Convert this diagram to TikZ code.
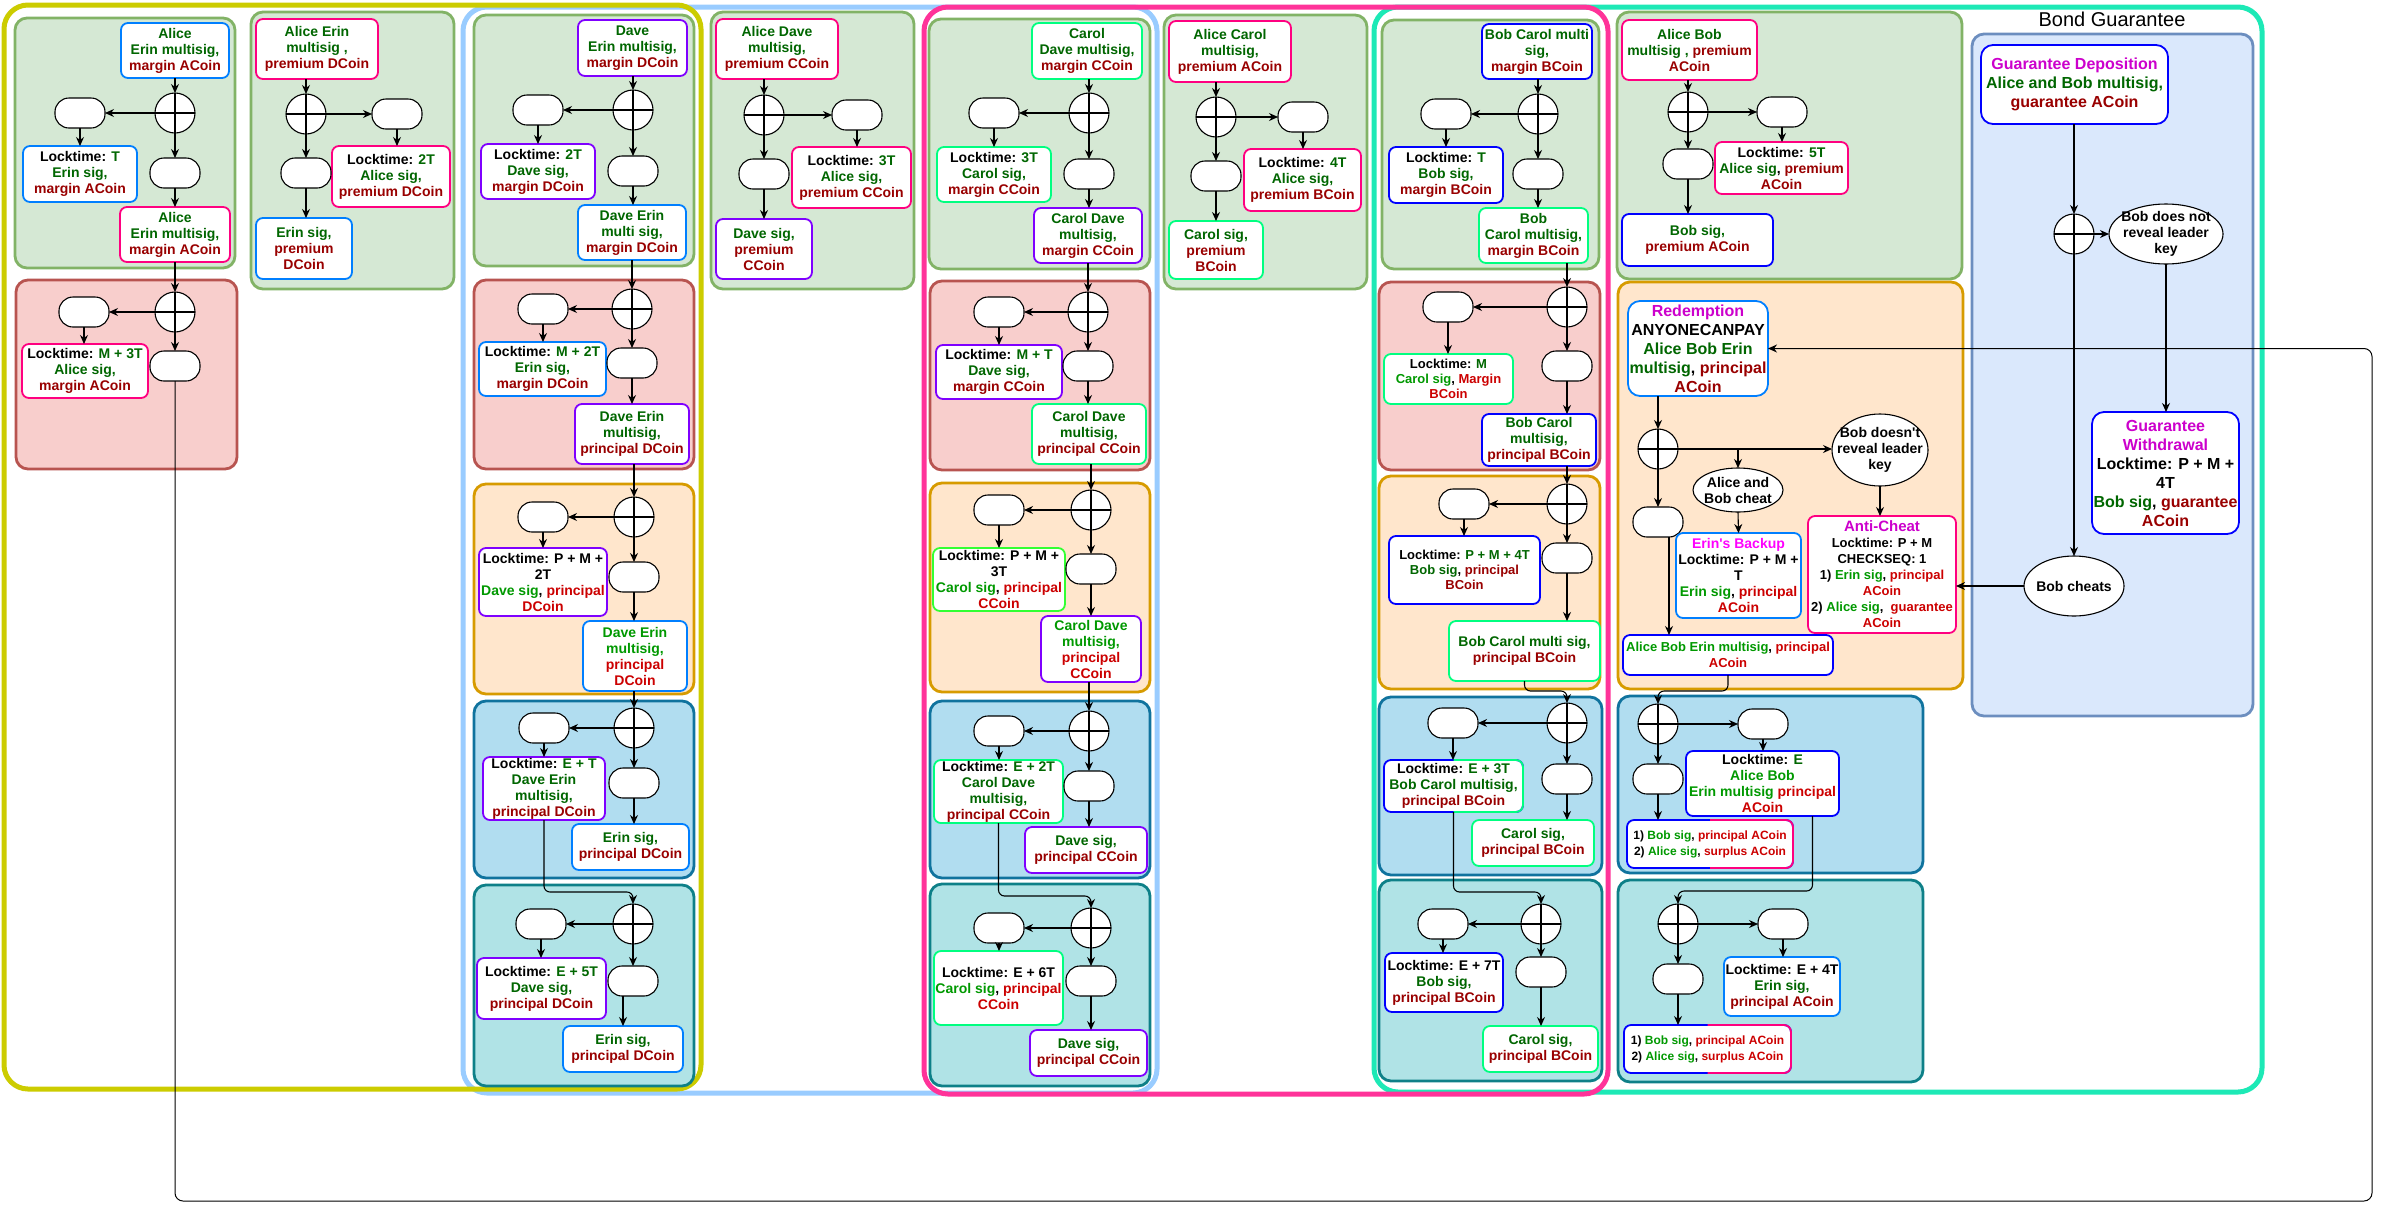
\documentclass[tikz,border=0pt]{standalone}
\usepackage{fontspec}
\setmainfont{Liberation Sans}
\usetikzlibrary{arrows.meta,shapes.geometric,calc}
\definecolor{tg}{HTML}{006600}
\definecolor{tr}{HTML}{990000}
\definecolor{bgc}{HTML}{009900}
\definecolor{brc}{HTML}{CC0000}
\definecolor{mg}{HTML}{CC00CC}
\definecolor{mgb}{HTML}{FF00FF}
\definecolor{cBlue}{HTML}{007FFF}
\definecolor{cBob}{HTML}{0000FF}
\definecolor{cPink}{HTML}{FF0080}
\definecolor{cPurple}{HTML}{7F00FF}
\definecolor{cGreen}{HTML}{00FF80}
\definecolor{cGreenB}{HTML}{33FF33}
\definecolor{yel}{HTML}{CCCC00}
\definecolor{lblue}{HTML}{99CCFF}
\definecolor{hpink}{HTML}{FF3399}
\definecolor{mint}{HTML}{1DE9B6}
\definecolor{gF}{HTML}{D5E8D4}\definecolor{gS}{HTML}{82B366}
\definecolor{rF}{HTML}{F8CECC}\definecolor{rS}{HTML}{B85450}
\definecolor{oF}{HTML}{FFE6CC}\definecolor{oS}{HTML}{D79B00}
\definecolor{bF}{HTML}{B1DDF0}\definecolor{bS}{HTML}{10739E}
\definecolor{tF}{HTML}{B0E3E6}\definecolor{tS}{HTML}{0E8088}
\definecolor{pF}{HTML}{DAE8FC}\definecolor{pS}{HTML}{6C8EBF}
\newcommand{\xG}[1]{\textcolor{tg}{#1}}
\newcommand{\xR}[1]{\textcolor{tr}{#1}}
\newcommand{\xg}[1]{\textcolor{bgc}{#1}}
\newcommand{\xr}[1]{\textcolor{brc}{#1}}
\newcommand{\lockt}{Locktime:}
\newcommand{\splitborder}[2]{\begin{scope}\clip ($(#1.north)+(0,-10)$) rectangle ($(#1.south east)+(10,10)$);\draw[draw=#2, line width=1.8pt, rounded corners=7pt] (#1.south west) rectangle (#1.north east);\end{scope}}
\tikzset{
  every node/.append style={font=\bfseries\fontsize{14}{16}\selectfont},
  bx/.style={draw=#1, fill=white, rounded corners=7pt, line width=1.8pt, align=center, inner sep=1pt, outer sep=0pt},
  pill/.style={draw=black, fill=white, rounded corners=14pt, minimum width=50pt, minimum height=30pt, line width=1.1pt, inner sep=0pt, outer sep=0pt},
  xor/.style={circle, draw=black, fill=white, minimum size=40pt, inner sep=0pt, outer sep=0pt, line width=1.1pt, path picture={\draw[line width=1.1pt] (path picture bounding box.north) -- (path picture bounding box.south) (path picture bounding box.west) -- (path picture bounding box.east);}},
  ell/.style={ellipse, draw=black, fill=white, line width=1.1pt, inner sep=0pt, outer sep=0pt},
  ar/.style={draw=black, line width=1.1pt, -{Stealth[length=9pt,width=8pt]}},
  grp/.style={rounded corners=12pt, line width=2.8pt},
  outer/.style={rounded corners=24pt, line width=5pt},
}
\begin{document}
\begin{tikzpicture}[x=1pt,y=-1pt]
\fill[white] (0,0) rectangle (2383,1211);
\useasboundingbox (0,0) rectangle (2383,1211);
% outer containers
\draw[outer, draw=mint] (1374,7) rectangle (2262,1092);
\draw[outer, draw=lblue] (463,7) rectangle (1157,1093);
\draw[outer, draw=hpink] (924,7) rectangle (1608,1094);
\draw[outer, draw=yel] (4,5) rectangle (701,1089);
\node[font=\fontsize{20}{24}\selectfont] (title) at (2112,19) {Bond Guarantee};
% groups
\draw[grp, fill=gF, draw=gS] (15,18) rectangle (235,268);
\draw[grp, fill=rF, draw=rS] (16,280) rectangle (237,469);
\draw[grp, fill=gF, draw=gS] (251,12) rectangle (454,289);
\draw[grp, fill=gF, draw=gS] (474,15) rectangle (694,266);
\draw[grp, fill=rF, draw=rS] (474,280) rectangle (694,469);
\draw[grp, fill=oF, draw=oS] (474,484) rectangle (694,694);
\draw[grp, fill=bF, draw=bS] (474,701) rectangle (694,878);
\draw[grp, fill=tF, draw=tS] (474,885) rectangle (694,1086);
\draw[grp, fill=gF, draw=gS] (711,12) rectangle (914,289);
\draw[grp, fill=gF, draw=gS] (929,19) rectangle (1150,269);
\draw[grp, fill=rF, draw=rS] (930,281) rectangle (1150,470);
\draw[grp, fill=oF, draw=oS] (930,483) rectangle (1150,692);
\draw[grp, fill=bF, draw=bS] (930,701) rectangle (1150,878);
\draw[grp, fill=tF, draw=tS] (930,884) rectangle (1150,1086);
\draw[grp, fill=gF, draw=gS] (1164,15) rectangle (1367,289);
\draw[grp, fill=gF, draw=gS] (1382,20) rectangle (1599,269);
\draw[grp, fill=rF, draw=rS] (1379,282) rectangle (1600,470);
\draw[grp, fill=oF, draw=oS] (1379,476) rectangle (1600,689);
\draw[grp, fill=bF, draw=bS] (1379,697) rectangle (1602,875);
\draw[grp, fill=tF, draw=tS] (1379,880) rectangle (1602,1081);
\draw[grp, fill=gF, draw=gS] (1617,12) rectangle (1962,279);
\draw[grp, fill=oF, draw=oS] (1618,282) rectangle (1963,689);
\draw[grp, fill=bF, draw=bS] (1618,696) rectangle (1923,873);
\draw[grp, fill=tF, draw=tS] (1618,880) rectangle (1923,1082);
\draw[grp, fill=pF, draw=pS] (1972,34) rectangle (2253,716);

% ===== Column A =====
\node[bx=cBlue, minimum width=108pt, minimum height=55pt] (A1a) at (175,50.5) {\xG{Alice}\\\xG{Erin multisig,}\\\xR{margin ACoin}};
\node[xor] (A1x) at (175,113) {};
\node[pill] (A1p) at (80,113) {};
\node[bx=cBlue, minimum width=114pt, minimum height=56pt] (A1b) at (80,174) {\lockt{} \xG{T}\\\xG{Erin sig,}\\\xR{margin ACoin}};
\node[pill] (A1q) at (175,173) {};
\node[bx=cPink, minimum width=110pt, minimum height=55pt] (A1c) at (175,234.5) {\xG{Alice}\\\xG{Erin multisig,}\\\xR{margin ACoin}};
\node[xor] (A2x) at (175,312) {};
\node[pill] (A2p) at (84,312) {};
\node[bx=cPink, minimum width=126pt, minimum height=54pt] (A2b) at (85,371) {\lockt{} \xG{M + 3T}\\\xG{Alice sig,}\\\xR{margin ACoin}};
\node[pill] (A2q) at (175,366) {};

% ===== Column B =====
\node[bx=cPink, minimum width=122pt, minimum height=60pt] (B1) at (317,49) {\xG{Alice Erin}\\\xG{multisig ,}\\\xR{premium DCoin}};
\node[xor] (Bx) at (306,114) {};
\node[pill] (Bp) at (397,114) {};
\node[bx=cPink, minimum width=118pt, minimum height=61pt] (B2) at (391,176.5) {\lockt{} \xG{2T}\\\xG{Alice sig,}\\\xR{premium DCoin}};
\node[pill] (Bq) at (306,173) {};
\node[bx=cBlue, minimum width=96pt, minimum height=61pt] (B3) at (304,248.5) {\xG{Erin sig,}\\\xR{premium}\\\xR{DCoin}};

% ===== Column C =====
\node[bx=cPurple, minimum width=109pt, minimum height=56pt] (C1a) at (632.5,48) {\xG{Dave}\\\xG{Erin multisig,}\\\xR{margin DCoin}};
\node[xor] (C1x) at (633,110) {};
\node[pill] (C1p) at (538,110) {};
\node[bx=cPurple, minimum width=114pt, minimum height=55pt] (C1b) at (538,171.5) {\lockt{} \xG{2T}\\\xG{Dave sig,}\\\xR{margin DCoin}};
\node[pill] (C1q) at (633,171) {};
\node[bx=cBlue, minimum width=108pt, minimum height=55pt] (C1c) at (632,232.5) {\xG{Dave Erin}\\\xG{multi sig,}\\\xR{margin DCoin}};
\node[xor] (C2x) at (632,309) {};
\node[pill] (C2p) at (543,309) {};
\node[bx=cBlue, minimum width=127pt, minimum height=54pt] (C2b) at (542.5,369) {\lockt{} \xG{M + 2T}\\\xG{Erin sig,}\\\xR{margin DCoin}};
\node[pill] (C2q) at (632,363) {};
\node[bx=cPurple, minimum width=114pt, minimum height=60pt] (C2c) at (632,434) {\xG{Dave Erin}\\\xG{multisig,}\\\xR{principal DCoin}};
\node[xor] (C3x) at (634,517) {};
\node[pill] (C3p) at (543,517) {};
\node[bx=cPurple, minimum width=128pt, minimum height=68pt] (C3b) at (543,582) {\lockt{} P + M +\\2T\\\xg{Dave sig}, \xr{principal}\\\xr{DCoin}};
\node[pill] (C3q) at (634,577) {};
\node[bx=cBlue, minimum width=104pt, minimum height=70pt] (C3c) at (635,656) {\xg{Dave Erin}\\\xg{multisig,}\\\xr{principal}\\\xr{DCoin}};
\node[xor] (C4x) at (634,728) {};
\node[pill] (C4p) at (544,728) {};
\node[bx=cPurple, minimum width=122pt, minimum height=63pt] (C4b) at (544,788.5) {\lockt{} \xG{E + T}\\\xG{Dave Erin}\\\xG{multisig,}\\\xR{principal DCoin}};
\node[pill] (C4q) at (634,783) {};
\node[bx=cBlue, minimum width=117pt, minimum height=46pt] (C4c) at (630.5,847) {\xG{Erin sig,}\\\xR{principal DCoin}};
\node[xor] (C5x) at (633,924) {};
\node[pill] (C5p) at (541,924) {};
\node[bx=cPurple, minimum width=129pt, minimum height=61pt] (C5b) at (541.5,988.5) {\lockt{} \xG{E + 5T}\\\xG{Dave sig,}\\\xR{principal DCoin}};
\node[pill] (C5q) at (633,981) {};
\node[bx=cBlue, minimum width=120pt, minimum height=46pt] (C5c) at (623,1049) {\xG{Erin sig,}\\\xR{principal DCoin}};

% ===== Column D =====
\node[bx=cPink, minimum width=122pt, minimum height=60pt] (D1) at (777,49) {\xG{Alice Dave}\\\xG{multisig,}\\\xR{premium CCoin}};
\node[xor] (Dx) at (764,115) {};
\node[pill] (Dp) at (857,115) {};
\node[bx=cPink, minimum width=119pt, minimum height=61pt] (D2) at (851.5,177.5) {\lockt{} \xG{3T}\\\xG{Alice sig,}\\\xR{premium CCoin}};
\node[pill] (Dq) at (764,174) {};
\node[bx=cPurple, minimum width=96pt, minimum height=60pt] (D3) at (764,249) {\xG{Dave sig,}\\\xR{premium}\\\xR{CCoin}};

% ===== Column E =====
\node[bx=cGreen, minimum width=110pt, minimum height=56pt] (E1a) at (1087,51) {\xG{Carol}\\\xG{Dave multisig,}\\\xR{margin CCoin}};
\node[xor] (E1x) at (1089,113) {};
\node[pill] (E1p) at (994,113) {};
\node[bx=cGreen, minimum width=114pt, minimum height=55pt] (E1b) at (994,174.5) {\lockt{} \xG{3T}\\\xG{Carol sig,}\\\xR{margin CCoin}};
\node[pill] (E1q) at (1089,174) {};
\node[bx=cPurple, minimum width=108pt, minimum height=55pt] (E1c) at (1088,235.5) {\xG{Carol Dave}\\\xG{multisig,}\\\xR{margin CCoin}};
\node[xor] (E2x) at (1088,312) {};
\node[pill] (E2p) at (999,312) {};
\node[bx=cPurple, minimum width=126pt, minimum height=54pt] (E2b) at (999,372) {\lockt{} \xG{M + T}\\\xG{Dave sig,}\\\xR{margin CCoin}};
\node[pill] (E2q) at (1088,366) {};
\node[bx=cGreen, minimum width=114pt, minimum height=60pt] (E2c) at (1089,434) {\xG{Carol Dave}\\\xG{multisig,}\\\xR{principal CCoin}};
\node[xor] (E3x) at (1091,510) {};
\node[pill] (E3p) at (999,510) {};
\node[bx=cGreenB, minimum width=132pt, minimum height=63pt] (E3b) at (999,579.5) {\lockt{} P + M +\\3T\\\xg{Carol sig}, \xr{principal}\\\xr{CCoin}};
\node[pill] (E3q) at (1091,569) {};
\node[bx=cPurple, minimum width=100pt, minimum height=66pt] (E3c) at (1091,649) {\xg{Carol Dave}\\\xg{multisig,}\\\xr{principal}\\\xr{CCoin}};
\node[xor] (E4x) at (1089,731) {};
\node[pill] (E4p) at (999,731) {};
\node[bx=cGreen, minimum width=129pt, minimum height=63pt] (E4b) at (998.5,791.5) {\lockt{} \xG{E + 2T}\\\xG{Carol Dave}\\\xG{multisig,}\\\xR{principal CCoin}};
\node[pill] (E4q) at (1089,786) {};
\node[bx=cPurple, minimum width=122pt, minimum height=46pt] (E4c) at (1086,850) {\xG{Dave sig,}\\\xR{principal CCoin}};
\node[xor] (E5x) at (1091,928) {};
\node[pill] (E5p) at (999,928) {};
\node[bx=cGreen, minimum width=129pt, minimum height=74pt] (E5b) at (998.5,988) {\lockt{} E + 6T\\\xg{Carol sig}, \xr{principal}\\\xr{CCoin}};
\node[pill] (E5q) at (1091,981) {};
\node[bx=cPurple, minimum width=117pt, minimum height=46pt] (E5c) at (1088.5,1053) {\xG{Dave sig,}\\\xR{principal CCoin}};

% ===== Column F =====
\node[bx=cPink, minimum width=122pt, minimum height=61pt] (F1) at (1230,51.5) {\xG{Alice Carol}\\\xG{multisig,}\\\xR{premium ACoin}};
\node[xor] (Fx) at (1216,117) {};
\node[pill] (Fp) at (1303,117) {};
\node[bx=cPink, minimum width=117pt, minimum height=62pt] (F2) at (1302.5,180) {\lockt{} \xG{4T}\\\xG{Alice sig,}\\\xR{premium BCoin}};
\node[pill] (Fq) at (1216,176) {};
\node[bx=cGreen, minimum width=94pt, minimum height=58pt] (F3) at (1216,250) {\xG{Carol sig,}\\\xR{premium}\\\xR{BCoin}};

% ===== Column G =====
\node[bx=cBob, minimum width=110pt, minimum height=55pt] (G1a) at (1537,51.5) {\xG{Bob Carol multi}\\\xG{sig,}\\\xR{margin BCoin}};
\node[xor] (G1x) at (1538,114) {};
\node[pill] (G1p) at (1446,114) {};
\node[bx=cBob, minimum width=114pt, minimum height=56pt] (G1b) at (1446,175) {\lockt{} \xG{T}\\\xG{Bob sig,}\\\xR{margin BCoin}};
\node[pill] (G1q) at (1538,174) {};
\node[bx=cGreen, minimum width=109pt, minimum height=55pt] (G1c) at (1533.5,235.5) {\xG{Bob}\\\xG{Carol multisig,}\\\xR{margin BCoin}};
\node[xor] (G2x) at (1567,307) {};
\node[pill] (G2p) at (1448,307) {};
\node[bx=cGreen, minimum width=129pt, minimum height=50pt, font=\bfseries\fontsize{13}{15}\selectfont] (G2b) at (1448.5,379) {\lockt{} \xG{M}\\\xg{Carol sig}, \xr{Margin}\\\xr{BCoin}};
\node[pill] (G2q) at (1567,366) {};
\node[bx=cBob, minimum width=114pt, minimum height=52pt] (G2c) at (1539,440) {\xG{Bob Carol}\\\xG{multisig,}\\\xR{principal BCoin}};
\node[xor] (G3x) at (1567,504) {};
\node[pill] (G3p) at (1464,504) {};
\node[bx=cBob, minimum width=151pt, minimum height=68pt, font=\bfseries\fontsize{13}{15}\selectfont] (G3b) at (1464.5,570) {\lockt{} \xG{P + M + 4T}\\\xG{Bob sig}, \xR{principal}\\\xR{BCoin}};
\node[pill] (G3q) at (1567,558) {};
\node[bx=cGreen, minimum width=151pt, minimum height=60pt] (G3c) at (1524.5,651) {\xG{Bob Carol multi sig,}\\\xR{principal BCoin}};
\node[xor] (G4x) at (1567,723) {};
\node[pill] (G4p) at (1453,723) {};
\node[bx=cBob, minimum width=139pt, minimum height=52pt] (G4b) at (1453.5,786) {\lockt{} \xG{E + 3T}\\\xG{Bob Carol multisig,}\\\xR{principal BCoin}};
\node[pill] (G4q) at (1567,779) {};
\node[bx=cGreen, minimum width=122pt, minimum height=46pt] (G4c) at (1533,843) {\xG{Carol sig,}\\\xR{principal BCoin}};
\node[xor] (G5x) at (1541,924) {};
\node[pill] (G5p) at (1443,924) {};
\node[bx=cBob, minimum width=118pt, minimum height=59pt] (G5b) at (1444,982.5) {\lockt{} E + 7T\\\xG{Bob sig,}\\\xR{principal BCoin}};
\node[pill] (G5q) at (1541,972) {};
\node[bx=cGreen, minimum width=115pt, minimum height=46pt] (G5c) at (1540.5,1049) {\xG{Carol sig,}\\\xR{principal BCoin}};

% ===== Column H =====
\node[bx=cPink, minimum width=135pt, minimum height=60pt] (H1a) at (1689.5,50) {\xG{Alice Bob}\\\xG{multisig ,} \xR{premium}\\\xR{ACoin}};
\node[xor] (H1x) at (1688,112) {};
\node[pill] (H1p) at (1782,112) {};
\node[bx=cPink, minimum width=133pt, minimum height=52pt] (H1b) at (1781.5,168) {\lockt{} \xG{5T}\\\xG{Alice sig}, \xR{premium}\\\xR{ACoin}};
\node[pill] (H1q) at (1688,164) {};
\node[bx=cBob, minimum width=151pt, minimum height=52pt] (H1c) at (1697.5,240) {\xG{Bob sig,}\\\xR{premium ACoin}};

\node[bx=cBlue, rounded corners=12pt, minimum width=140pt, minimum height=95pt, font=\bfseries\fontsize{16}{19}\selectfont] (Red) at (1698,348.5) {\textcolor{mg}{Redemption}\\ANYONECANPAY\\\xG{Alice Bob Erin}\\\xG{multisig}, \xR{principal}\\\xR{ACoin}};
\node[xor] (H2x) at (1658,449) {};
\node[ell, minimum width=96pt, minimum height=72pt, label={[align=center]center:Bob doesn\textquotesingle t\\reveal leader\\key}] (H2e1) at (1880,450) {};
\node[ell, minimum width=90pt, minimum height=44pt, label={[align=center]center:Alice and\\Bob cheat}] (H2e2) at (1738,490) {};
\node[pill] (H2p) at (1658,522) {};
\node[bx=cBlue, minimum width=125pt, minimum height=85pt] (H2eb) at (1738.5,575.5) {\textcolor{mgb}{Erin\textquotesingle s Backup}\\\lockt{} P + M +\\T\\\xg{Erin sig}, \xr{principal}\\\xr{ACoin}};
\node[bx=cPink, minimum width=148pt, minimum height=117pt, font=\bfseries\fontsize{13}{16}\selectfont] (H2ac) at (1882,574.5) {{\color{mg}\fontsize{15}{16}\selectfont Anti-Cheat}\\\lockt{} P + M\\CHECKSEQ: 1\\1) \xg{Erin sig}, \xr{principal}\\\xr{ACoin}\\2) \xg{Alice sig},\ \ \xr{guarantee}\\\xr{ACoin}};
\node[bx=cBob, minimum width=210pt, minimum height=40pt, font=\bfseries\fontsize{13}{16}\selectfont] (H2abe) at (1728,655) {\xg{Alice Bob Erin multisig}, \xr{principal}\\\xr{ACoin}};

\node[xor] (H3x) at (1658,724) {};
\node[pill] (H3p) at (1763,724) {};
\node[bx=cBob, minimum width=153pt, minimum height=65pt] (H3b) at (1762.5,783.5) {\lockt{} \xG{E}\\\xg{Alice Bob}\\\xg{Erin multisig} \xr{principal}\\\xr{ACoin}};
\node[pill] (H3q) at (1658,779) {};
\node[bx=cBob, minimum width=166pt, minimum height=48pt, font=\bfseries\fontsize{12}{16}\selectfont] (H3c) at (1710,844) {1) \xg{Bob sig}, \xr{principal ACoin}\\2) \xg{Alice sig}, \xr{surplus ACoin}};
\splitborder{H3c}{cPink}

\node[xor] (H4x) at (1678,924) {};
\node[pill] (H4p) at (1783,924) {};
\node[bx=cBlue, minimum width=116pt, minimum height=59pt] (H4b) at (1782,986.5) {\lockt{} E + 4T\\\xG{Erin sig,}\\\xR{principal ACoin}};
\node[pill] (H4q) at (1678,979) {};
\node[bx=cBob, minimum width=167pt, minimum height=48pt, font=\bfseries\fontsize{12}{16}\selectfont] (H4c) at (1707.5,1049) {1) \xg{Bob sig}, \xr{principal ACoin}\\2) \xg{Alice sig}, \xr{surplus ACoin}};
\splitborder{H4c}{cPink}
\splitborder{G4b}{cGreen}

% ===== Bond Guarantee =====
\node[bx=cBob, rounded corners=12pt, minimum width=187pt, minimum height=79pt, font=\bfseries\fontsize{16}{19}\selectfont] (BGd) at (2074.5,84.5) {\textcolor{mg}{Guarantee Deposition}\\\xG{Alice and Bob multisig,}\\\xR{guarantee ACoin}};
\node[xor] (BGx) at (2074,234) {};
\node[ell, minimum width=114pt, minimum height=60pt, label={[align=center]center:Bob does not\\reveal leader\\key}] (BGe1) at (2166,234) {};
\node[bx=cBob, rounded corners=12pt, minimum width=147pt, minimum height=122pt, font=\bfseries\fontsize{16}{19}\selectfont] (BGw) at (2165.5,473) {\textcolor{mg}{Guarantee}\\\textcolor{mg}{Withdrawal}\\\lockt{} P + M +\\4T\\\xG{Bob sig}, \xR{guarantee}\\\xR{ACoin}};
\node[ell, minimum width=100pt, minimum height=60pt, label={center:Bob cheats}] (BGe2) at (2074,586) {};

\coordinate (loopC) at (2372,1201);

% ===== connectors =====
% A
\draw[ar] (A1a.south -| A1x) -- (A1x.north);
\draw[ar] (A1x.west) -- (A1p.east);
\draw[ar] (A1x.south) -- (A1q.north);
\draw[ar] (A1p.south) -- (A1b.north -| A1p);
\draw[ar] (A1q.south) -- (A1c.north -| A1q);
\draw[ar] (A1c.south -| A2x) -- (A2x.north);
\draw[ar] (A2x.west) -- (A2p.east);
\draw[ar] (A2x.south) -- (A2q.north);
\draw[ar] (A2p.south) -- (A2b.north -| A2p);
\draw[ar, line width=1pt, rounded corners=8pt] (A2q.south) |- (loopC) |- (Red.east);
% B
\draw[ar] (B1.south -| Bx) -- (Bx.north);
\draw[ar] (Bx.east) -- (Bp.west);
\draw[ar] (Bx.south) -- (Bq.north);
\draw[ar] (Bp.south) -- (B2.north -| Bp);
\draw[ar] (Bq.south) -- (B3.north -| Bq);
% C
\draw[ar] (C1a.south -| C1x) -- (C1x.north);
\draw[ar] (C1x.west) -- (C1p.east);
\draw[ar] (C1x.south) -- (C1q.north);
\draw[ar] (C1p.south) -- (C1b.north -| C1p);
\draw[ar] (C1q.south) -- (C1c.north -| C1q);
\draw[ar] (C1c.south -| C2x) -- (C2x.north);
\draw[ar] (C2x.west) -- (C2p.east);
\draw[ar] (C2x.south) -- (C2q.north);
\draw[ar] (C2p.south) -- (C2b.north -| C2p);
\draw[ar] (C2q.south) -- (C2c.north -| C2q);
\draw[ar] (C2c.south -| C3x) -- (C3x.north);
\draw[ar] (C3x.west) -- (C3p.east);
\draw[ar] (C3x.south) -- (C3q.north);
\draw[ar] (C3p.south) -- (C3b.north -| C3p);
\draw[ar] (C3q.south) -- (C3c.north -| C3q);
\draw[ar] (C3c.south -| C4x) -- (C4x.north);
\draw[ar] (C4x.west) -- (C4p.east);
\draw[ar] (C4x.south) -- (C4q.north);
\draw[ar] (C4p.south) -- (C4b.north -| C4p);
\draw[ar] (C4q.south) -- (C4c.north -| C4q);
\draw[ar, rounded corners=6pt] (C4b.south) |- ($(C5x.north)+(0,-12)$) -- (C5x.north);
\draw[ar] (C5x.west) -- (C5p.east);
\draw[ar] (C5x.south) -- (C5q.north);
\draw[ar] (C5p.south) -- (C5b.north -| C5p);
\draw[ar] (C5q.south -| C5c) -- (C5c.north);
% D
\draw[ar] (D1.south -| Dx) -- (Dx.north);
\draw[ar] (Dx.east) -- (Dp.west);
\draw[ar] (Dx.south) -- (Dq.north);
\draw[ar] (Dp.south) -- (D2.north -| Dp);
\draw[ar] (Dq.south) -- (D3.north -| Dq);
% E
\draw[ar] (E1a.south -| E1x) -- (E1x.north);
\draw[ar] (E1x.west) -- (E1p.east);
\draw[ar] (E1x.south) -- (E1q.north);
\draw[ar] (E1p.south) -- (E1b.north -| E1p);
\draw[ar] (E1q.south) -- (E1c.north -| E1q);
\draw[ar] (E1c.south -| E2x) -- (E2x.north);
\draw[ar] (E2x.west) -- (E2p.east);
\draw[ar] (E2x.south) -- (E2q.north);
\draw[ar] (E2p.south) -- (E2b.north -| E2p);
\draw[ar] (E2q.south) -- (E2c.north -| E2q);
\draw[ar] (E2c.south -| E3x) -- (E3x.north);
\draw[ar] (E3x.west) -- (E3p.east);
\draw[ar] (E3x.south) -- (E3q.north);
\draw[ar] (E3p.south) -- (E3b.north -| E3p);
\draw[ar] (E3q.south) -- (E3c.north -| E3q);
\draw[ar] (E3c.south -| E4x) -- (E4x.north);
\draw[ar] (E4x.west) -- (E4p.east);
\draw[ar] (E4x.south) -- (E4q.north);
\draw[ar] (E4p.south) -- (E4b.north -| E4p);
\draw[ar] (E4q.south) -- (E4c.north -| E4q);
\draw[ar, rounded corners=6pt] (E4b.south) |- ($(E5x.north)+(0,-12)$) -- (E5x.north);
\draw[ar] (E5x.west) -- (E5p.east);
\draw[ar] (E5x.south) -- (E5q.north);
\draw[ar] (E5p.south) -- (E5b.north -| E5p);
\draw[ar] (E5q.south) -- (E5c.north -| E5q);
% F
\draw[ar] (F1.south -| Fx) -- (Fx.north);
\draw[ar] (Fx.east) -- (Fp.west);
\draw[ar] (Fx.south) -- (Fq.north);
\draw[ar] (Fp.south) -- (F2.north -| Fp);
\draw[ar] (Fq.south) -- (F3.north -| Fq);
% G
\draw[ar] (G1a.south -| G1x) -- (G1x.north);
\draw[ar] (G1x.west) -- (G1p.east);
\draw[ar] (G1x.south) -- (G1q.north);
\draw[ar] (G1p.south) -- (G1b.north -| G1p);
\draw[ar] (G1q.south) -- (G1c.north -| G1q);
\draw[ar] (G1c.south -| G2x) -- (G2x.north);
\draw[ar] (G2x.west) -- (G2p.east);
\draw[ar] (G2x.south) -- (G2q.north);
\draw[ar] (G2p.south) -- (G2b.north -| G2p);
\draw[ar] (G2q.south) -- (G2c.north -| G2q);
\draw[ar] (G2c.south -| G3x) -- (G3x.north);
\draw[ar] (G3x.west) -- (G3p.east);
\draw[ar] (G3x.south) -- (G3q.north);
\draw[ar] (G3p.south) -- (G3b.north -| G3p);
\draw[ar] (G3q.south) -- (G3c.north -| G3q);
\draw[ar, rounded corners=6pt] (G3c.south) |- ($(G4x.north)+(0,-12)$) -- (G4x.north);
\draw[ar] (G4x.west) -- (G4p.east);
\draw[ar] (G4x.south) -- (G4q.north);
\draw[ar] (G4p.south) -- (G4b.north -| G4p);
\draw[ar] (G4q.south) -- (G4c.north -| G4q);
\draw[ar, rounded corners=6pt] (G4b.south) |- ($(G5x.north)+(0,-12)$) -- (G5x.north);
\draw[ar] (G5x.west) -- (G5p.east);
\draw[ar] (G5x.south) -- (G5q.north);
\draw[ar] (G5p.south) -- (G5b.north -| G5p);
\draw[ar] (G5q.south) -- (G5c.north -| G5q);
% H1
\draw[ar] (H1a.south -| H1x) -- (H1x.north);
\draw[ar] (H1x.east) -- (H1p.west);
\draw[ar] (H1x.south) -- (H1q.north);
\draw[ar] (H1p.south) -- (H1b.north -| H1p);
\draw[ar] (H1q.south) -- (H1c.north -| H1q);
% H2
\draw[ar] (Red.south -| H2x) -- (H2x.north);
\draw[ar] (H2x.east) -- (H2x.east -| H2e1.west);
\draw[ar] (H2x.east -| H2e2.north) -- (H2e2.north);
\draw[ar] (H2x.south) -- (H2p.north);
\draw[ar] (H2e1.south) -- (H2e1.south |- H2ac.north);
\draw[ar] (H2e2.south) -- (H2eb.north);
\draw[ar] ($(H2p.south)+(11,0)$) -- ($(H2abe.north -| H2p)+(11,0)$);
\draw[ar, rounded corners=6pt] (H2abe.south) |- ($(H3x.north)+(0,-13)$) -- (H3x.north);
% H3
\draw[ar] (H3x.east) -- (H3p.west);
\draw[ar] (H3x.south) -- (H3q.north);
\draw[ar] (H3p.south) -- (H3b.north -| H3p);
\draw[ar] (H3q.south) -- (H3c.north -| H3q);
\draw[ar, rounded corners=6pt] ($(H3b.south)+(50,0)$) |- ($(H4x.north)+(0,-13)$) -- (H4x.north);
% H4
\draw[ar] (H4x.east) -- (H4p.west);
\draw[ar] (H4x.south) -- (H4q.north);
\draw[ar] (H4p.south) -- (H4b.north -| H4p);
\draw[ar] (H4q.south) -- (H4c.north -| H4q);
% Bond
\draw[ar] (BGd.south -| BGx) -- (BGx.north);
\draw[ar] (BGx.east) -- (BGe1.west);
\draw[ar] (BGx.south) -- (BGe2.north);
\draw[ar] (BGe1.south) -- (BGw.north -| BGe1);
\draw[ar] (BGe2.west) -- (BGe2.west -| H2ac.east);
\end{tikzpicture}
\end{document}
